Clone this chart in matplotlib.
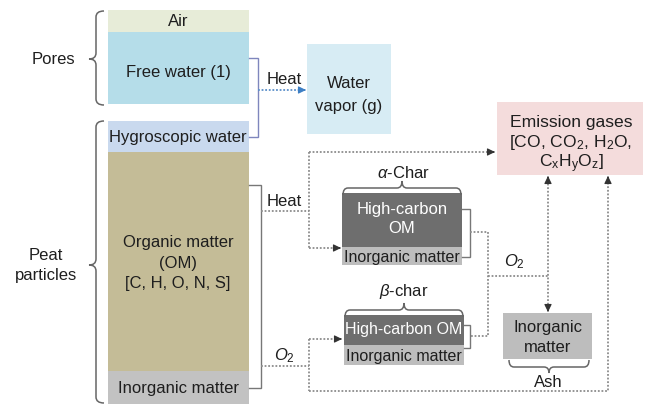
import matplotlib
matplotlib.use("Agg")
import matplotlib.pyplot as plt
from matplotlib.path import Path
from matplotlib.patches import PathPatch, Rectangle

plt.rcParams['font.family'] = ['Liberation Sans', 'DejaVu Sans']
plt.rcParams['mathtext.fontset'] = 'custom'
plt.rcParams['mathtext.rm'] = 'Liberation Sans'
plt.rcParams['mathtext.it'] = 'Liberation Sans:italic'

# ---- labels / content ----
column_labels = ["Air", "Free water (1)", "Hygroscopic water",
                 "Organic matter", "(OM)", "[C, H, O, N, S]", "Inorganic matter"]
group_labels = ["Pores", "Peat", "particles"]
process_labels = ["Heat", "Heat", "$O_2$", "$O_2$"]
vapor_labels = ["Water", "vapor (g)"]
gas_labels = ["Emission gases", "[CO, CO$_2$, H$_2$O,",
              r"C$_\mathrm{x}$H$_\mathrm{y}$O$_\mathrm{z}$]"]
char_labels = [r"$\alpha$-Char", r"$\beta$-char"]
char_inner = ["High-carbon", "OM", "High-carbon OM", "Inorganic matter"]
ash_labels = ["Inorganic", "matter", "Ash"]

FS = 12
FS_CHAR = 11.5
FS_GAS = 12.6
fig = plt.figure(figsize=(6.45, 4.06), dpi=100)
ax = fig.add_axes([0, 0, 1, 1])
ax.set_xlim(0, 645)
ax.set_ylim(406, 0)
ax.axis('off')


def box(x0, y0, x1, y1, color):
    ax.add_patch(Rectangle((x0, y0), x1 - x0, y1 - y0, facecolor=color,
                           edgecolor='none', zorder=1))


def txt(x, y, s, color='#1e1e1e', size=FS, **kw):
    ax.text(x, y, s, ha='center', va='center', color=color, fontsize=size,
            zorder=5, **kw)


def vbrace(x_end, x_mid, x_tip, y0, y1, ym=None, color='#666666', lw=1.1):
    if ym is None:
        ym = (y0 + y1) / 2
    r = 6
    verts = [(x_end, y0), (x_mid, y0), (x_mid, y0 + r),
             (x_mid, ym - r), (x_mid, ym), (x_tip, ym),
             (x_mid, ym), (x_mid, ym + r),
             (x_mid, y1 - r), (x_mid, y1), (x_end, y1)]
    codes = [Path.MOVETO, Path.CURVE3, Path.CURVE3,
             Path.LINETO, Path.CURVE3, Path.CURVE3,
             Path.CURVE3, Path.CURVE3,
             Path.LINETO, Path.CURVE3, Path.CURVE3]
    ax.add_patch(PathPatch(Path(verts, codes), fill=False, edgecolor=color,
                           lw=lw, zorder=3))


def hbrace(y_end, y_mid, y_tip, x0, x1, color='#666666', lw=1.1):
    xm = (x0 + x1) / 2
    r = 5
    verts = [(x0, y_end), (x0, y_mid), (x0 + r, y_mid),
             (xm - r, y_mid), (xm, y_mid), (xm, y_tip),
             (xm, y_mid), (xm + r, y_mid),
             (x1 - r, y_mid), (x1, y_mid), (x1, y_end)]
    codes = [Path.MOVETO, Path.CURVE3, Path.CURVE3,
             Path.LINETO, Path.CURVE3, Path.CURVE3,
             Path.CURVE3, Path.CURVE3,
             Path.LINETO, Path.CURVE3, Path.CURVE3]
    ax.add_patch(PathPatch(Path(verts, codes), fill=False, edgecolor=color,
                           lw=lw, zorder=3))


def solid(xs, ys, color='#777777', lw=1.0):
    ax.plot(xs, ys, color=color, lw=lw, solid_joinstyle='miter', zorder=3)


def dotted(xs, ys, color='#8c8c8c', lw=1.3):
    ax.plot(xs, ys, color=color, lw=lw, linestyle=(0, (1, 1)), zorder=3)


def head(x, y, dx, dy, color='#333333'):
    ax.annotate('', xy=(x, y), xytext=(x - dx * 2, y - dy * 2),
                arrowprops=dict(arrowstyle='-|>,head_length=0.45,head_width=0.22',
                                color=color, lw=0.8, shrinkA=0, shrinkB=0),
                zorder=4)


# ---- left column ----
box(108, 11, 249, 33, '#e7ecd8')
box(108, 33, 249, 105, '#b5dde9')
box(108, 122, 249, 153, '#c9d9ee')
box(108, 153, 249, 372, '#c4bc97')
box(108, 372, 249, 405, '#c2c2c2')

txt(178, 21, column_labels[0])
txt(178, 72, column_labels[1])
txt(178, 138, column_labels[2])
txt(178, 243, column_labels[3])
txt(178, 264, column_labels[4])
txt(178, 284, column_labels[5])
txt(178, 389, column_labels[6])

# group braces
vbrace(104, 96, 89, 12, 106, ym=60)
vbrace(104, 96, 89, 122, 404, ym=266)
txt(53, 59, group_labels[0])
txt(46, 256, group_labels[1])
txt(46, 276, group_labels[2])

# water bracket + heat
solid([249, 258, 258, 249], [59, 59, 138, 138], color='#7f86bd')
dotted([258, 302], [91, 91], color='#5b8fc9')
head(306, 91, 1, 0, color='#3d7fc4')
txt(284, 79, process_labels[0])
box(307, 45, 391, 135, '#d7ecf4')
txt(349, 83, vapor_labels[0])
txt(349, 106, vapor_labels[1])

# organic bracket
solid([249, 261, 261, 249], [186, 186, 389, 389])
txt(284, 202, process_labels[1])
txt(284, 356, process_labels[2], style='italic')

# heat branch
dotted([261, 309], [212, 212])
dotted([309, 309], [153, 249])
dotted([309, 491], [153, 153])
head(495, 153, 1, 0)
dotted([309, 337], [249, 249])
head(341, 249, 1, 0)

# O2 branch
dotted([261, 309], [367, 367])
dotted([309, 309], [340, 392])
dotted([309, 337], [340, 340])
head(342, 340, 1, 0)
dotted([309, 608, 608], [392, 392, 181])
head(608, 177, 0, -1)

# emission gases
box(497, 103, 643, 176, '#f4dcdc')
txt(571, 122, gas_labels[0], size=FS_GAS)
txt(571, 143, gas_labels[1], size=FS_GAS)
txt(571, 164, gas_labels[2], size=FS_GAS)

# alpha char
hbrace(196, 189, 182, 343, 461)
txt(403, 173, char_labels[0])
box(342, 194, 462, 248, '#6e6e6e')
box(342, 248, 462, 266, '#bdbdbd')
txt(402, 210, char_inner[0], color='white')
txt(402, 229, char_inner[1], color='white')
txt(402, 258, char_inner[3], size=FS_CHAR)
solid([462, 470, 470, 462], [210, 210, 258, 258])

# beta char
hbrace(318, 311, 304, 345, 463)
txt(404, 292, char_labels[1])
box(344, 316, 464, 346, '#6e6e6e')
box(344, 346, 464, 366, '#bdbdbd')
txt(404, 330, char_inner[2], color='white', size=FS_CHAR)
txt(404, 357, char_inner[3], size=FS_CHAR)
solid([464, 470, 470, 464], [326, 326, 349, 349])

# char -> ash / gases
dotted([470, 488, 488, 470], [233, 233, 337, 337])
dotted([488, 548], [277, 277])
txt(514, 262, process_labels[3], style='italic')
dotted([548, 548], [181, 309])
head(548, 177, 0, -1)
head(548, 313, 0, 1)

# ash
box(503, 314, 592, 360, '#bdbdbd')
txt(548, 328, ash_labels[0])
txt(548, 348, ash_labels[1])
hbrace(361, 368, 374, 509, 589)
txt(548, 383, ash_labels[2])

fig.savefig('out.png', dpi=100)
